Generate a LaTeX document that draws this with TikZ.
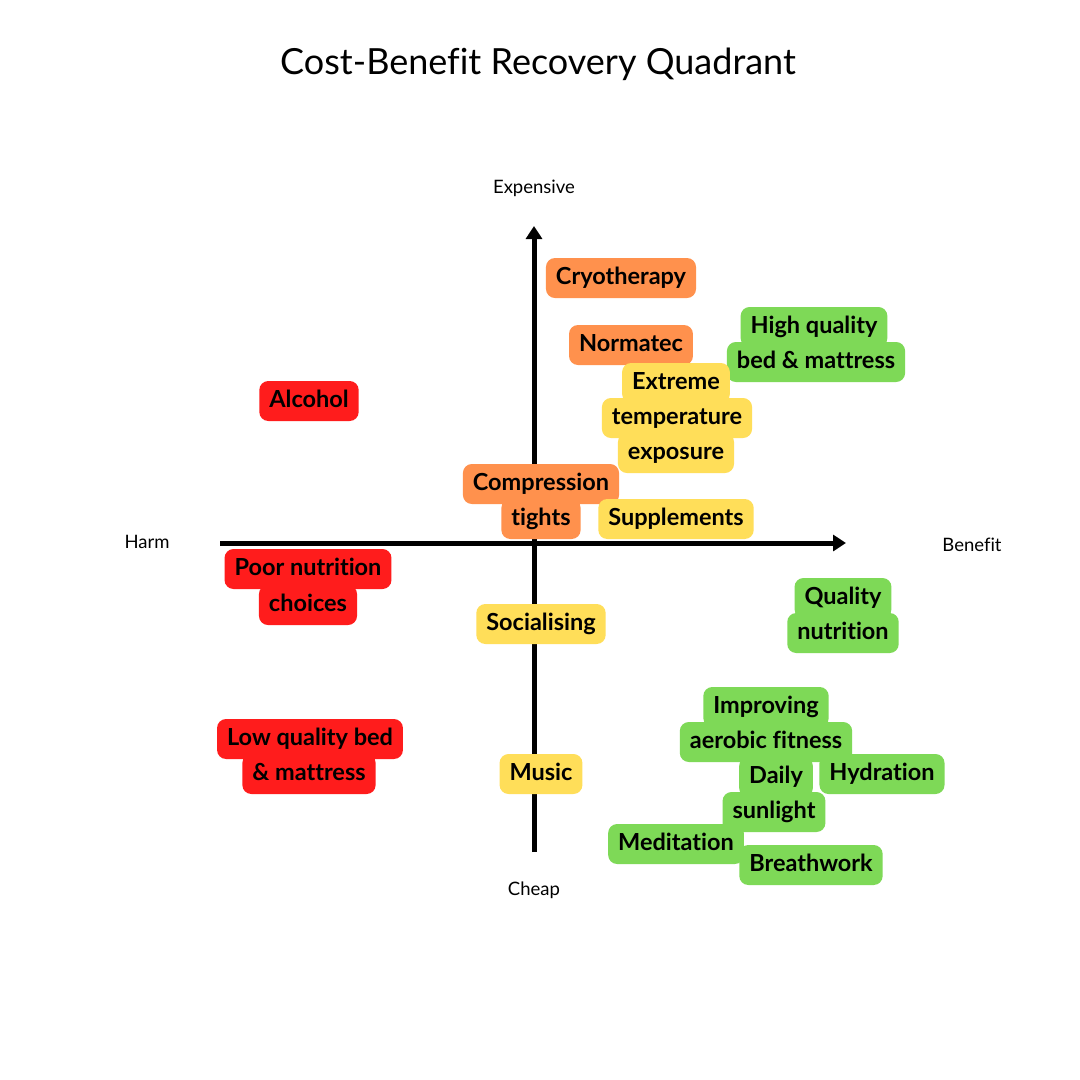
\documentclass[tikz,border=0pt]{standalone}
\usepackage{fontspec}
\setmainfont{Lato}[Ligatures=NoCommon]
\usetikzlibrary{arrows.meta}
\definecolor{corange}{HTML}{FF914D}
\definecolor{cred}{HTML}{FF1C1C}
\definecolor{cyellow}{HTML}{FFDE59}
\definecolor{cgreen}{HTML}{7ED957}
\tikzset{
  lbl/.style={rounded corners=9pt, inner xsep=10pt, inner ysep=0pt, text height=17pt, text depth=5pt, minimum height=40pt, font=\fontsize{23.5}{27}\selectfont\bfseries, text=black},
  org/.style={lbl, fill=corange},
  rd/.style={lbl, fill=cred},
  yl/.style={lbl, fill=cyellow},
  gr/.style={lbl, fill=cgreen},
  axlbl/.style={font=\fontsize{18.5}{22}\selectfont},
  axis/.style={line width=5pt, -{Triangle[length=13pt,width=16pt]}}
}
\begin{document}
\begin{tikzpicture}[x=1pt,y=-1pt]
\useasboundingbox[fill=white] (0,0) rectangle (1080,1080);
\node (title) at (538,64) {\fontsize{36}{42}\selectfont Cost-Benefit Recovery Quadrant};
\node[axlbl] (exp) at (534,188) {Expensive};
\node[axlbl] (cheap) at (534,890) {Cheap};
\node[axlbl] (harm) at (147,542) {Harm};
\node[axlbl] (ben) at (972,545) {Benefit};
\coordinate (xl) at (220,543);
\coordinate (xr) at (846,543);
\coordinate (yb) at (534,852);
\coordinate (yt) at (534,226);
\draw[axis] (xl) -- (xr);
\draw[axis] (yb) -- (yt);
% labels
\node[org] (cryo) at (621,278) {Cryotherapy};
\node[org] (norm) at (631,345) {Normatec};
\node[gr] (hq1) at (814,327) {High quality};
\node[gr] (hq2) at (816,362) {bed \& mattress};
\node[yl] (ex1) at (676,383) {Extreme};
\node[yl] (ex2) at (677,418) {temperature};
\node[yl] (ex3) at (676,453) {exposure};
\node[rd] (alc) at (309,401) {Alcohol};
\node[org] (co1) at (541,484) {Compression};
\node[org] (co2) at (541,519) {tights};
\node[yl] (sup) at (676,519) {Supplements};
\node[rd] (pn1) at (308,569) {Poor nutrition};
\node[rd] (pn2) at (308,605) {choices};
\node[yl] (soc) at (541,624) {Socialising};
\node[gr] (qn1) at (843,598) {Quality};
\node[gr] (qn2) at (843,633) {nutrition};
\node[gr] (im1) at (766,707) {Improving};
\node[gr] (im2) at (766,742) {aerobic fitness};
\node[gr] (hyd) at (882,774) {Hydration};
\node[gr] (dl1) at (776,777) {Daily};
\node[gr] (dl2) at (774,812) {sunlight};
\node[gr] (med) at (676,844) {Meditation};
\node[gr] (brw) at (811,865) {Breathwork};
\node[rd] (lq1) at (310,739) {Low quality bed};
\node[rd] (lq2) at (309,774) {\& mattress};
\node[yl] (mus) at (541,774) {Music};
\end{tikzpicture}
\end{document}
